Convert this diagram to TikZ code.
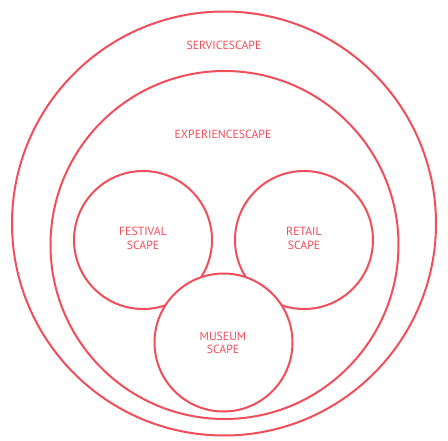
\documentclass[tikz,border=0pt]{standalone}
\usepackage{fontspec}
\setmainfont{PT Sans}
\definecolor{scapered}{RGB}{240,78,90}
\begin{document}
\begin{tikzpicture}[x=1pt,y=-1pt,
  ring/.style={draw=scapered,line width=2pt,circle,inner sep=0pt},
  lbl/.style={text=scapered,font=\fontsize{11.8}{13.5}\selectfont,align=center}]
\useasboundingbox (0,0) rectangle (448,440);
\fill[white] (0,0) rectangle (448,440);
\node[ring,minimum size=424pt] (service) at (224,223.5) {};
\node[ring,minimum size=348pt] (experience) at (224.5,245) {};
\node[ring,minimum size=138pt] (festival) at (143,240) {};
\node[ring,minimum size=138pt] (retail) at (304,240) {};
\node[ring,fill=white,minimum size=138pt] (museum) at (223.5,342.5) {};
\node[lbl] (tservice) at (224,45) {SERVICESCAPE};
\node[lbl] (texperience) at (223,134) {EXPERIENCESCAPE};
\node[lbl] (tfestival) at (143,238.5) {FESTIVAL\\SCAPE};
\node[lbl] (tretail) at (304,238.5) {RETAIL\\SCAPE};
\node[lbl] (tmuseum) at (223,343) {MUSEUM\\SCAPE};
\end{tikzpicture}
\end{document}
